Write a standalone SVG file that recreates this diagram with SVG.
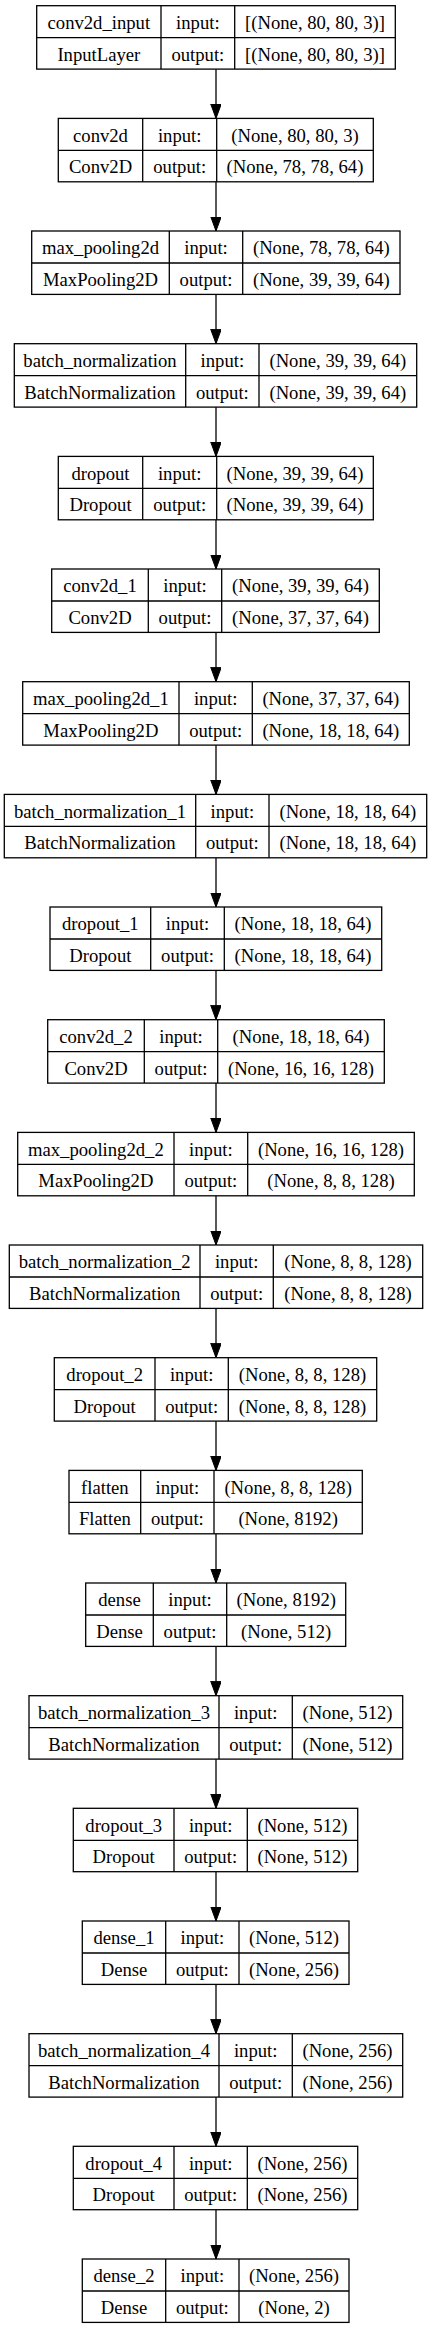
<svg xmlns="http://www.w3.org/2000/svg" width="432" height="2329" viewBox="0 0 432 2329" font-family="'Liberation Serif', 'Times New Roman', serif">
<style>
.box{fill:#fff;stroke:#000;stroke-width:1.3}
.sep{stroke:#000;stroke-width:1.3}
text{font-family:"Liberation Serif","Times New Roman",serif;font-size:18.67px;fill:#000;text-anchor:middle}
.edge{stroke:#000;stroke-width:1.3;fill:none;marker-end:url(#ah)}
</style>
<defs>
<marker id="ah" markerUnits="userSpaceOnUse" markerWidth="15" markerHeight="11" refX="14.5" refY="5.3" orient="auto">
<polygon points="0,0 14.5,5.3 0,10.6" fill="#000" stroke="#000" stroke-width="1"/>
</marker>
</defs>
<rect width="432" height="2329" fill="#fff"/>
<g id="connectors">
<path class="edge" d="M216,69.1V118.4"/>
<path class="edge" d="M216,181.8V231"/>
<path class="edge" d="M216,294.4V343.7"/>
<path class="edge" d="M216,407.1V456.4"/>
<path class="edge" d="M216,519.8V569"/>
<path class="edge" d="M216,632.4V681.7"/>
<path class="edge" d="M216,745.1V794.4"/>
<path class="edge" d="M216,857.8V907"/>
<path class="edge" d="M216,970.4V1019.7"/>
<path class="edge" d="M216,1083.1V1132.4"/>
<path class="edge" d="M216,1195.8V1245"/>
<path class="edge" d="M216,1308.4V1357.7"/>
<path class="edge" d="M216,1421.1V1470.4"/>
<path class="edge" d="M216,1533.8V1583"/>
<path class="edge" d="M216,1646.4V1695.7"/>
<path class="edge" d="M216,1759.1V1808.3"/>
<path class="edge" d="M216,1871.7V1921"/>
<path class="edge" d="M216,1984.4V2033.7"/>
<path class="edge" d="M216,2097.1V2146.3"/>
<path class="edge" d="M216,2209.7V2259"/>
</g>
<g id="conv2d_input" transform="translate(0,5.7)">
<rect class="box" x="36.7" y="0" width="358.6" height="63.4"/>
<path class="sep" d="M36.7,32H395.3M161,0V63.4M234.7,0V63.4"/>
<text x="98.85" y="23.3">conv2d_input</text><text x="197.85" y="23.3">input:</text><text x="315" y="23.3">[(None, 80, 80, 3)]</text>
<text x="98.85" y="55">InputLayer</text><text x="197.85" y="55">output:</text><text x="315" y="55">[(None, 80, 80, 3)]</text>
</g>
<g id="conv2d" transform="translate(0,118.4)">
<rect class="box" x="58.3" y="0" width="315" height="63.4"/>
<path class="sep" d="M58.3,32H373.3M142.7,0V63.4M216.7,0V63.4"/>
<text x="100.5" y="23.3">conv2d</text><text x="179.7" y="23.3">input:</text><text x="295" y="23.3">(None, 80, 80, 3)</text>
<text x="100.5" y="55">Conv2D</text><text x="179.7" y="55">output:</text><text x="295" y="55">(None, 78, 78, 64)</text>
</g>
<g id="max_pooling2d" transform="translate(0,231)">
<rect class="box" x="31.7" y="0" width="368.3" height="63.4"/>
<path class="sep" d="M31.7,32H400M169.3,0V63.4M242.7,0V63.4"/>
<text x="100.5" y="23.3">max_pooling2d</text><text x="206" y="23.3">input:</text><text x="321.35" y="23.3">(None, 78, 78, 64)</text>
<text x="100.5" y="55">MaxPooling2D</text><text x="206" y="55">output:</text><text x="321.35" y="55">(None, 39, 39, 64)</text>
</g>
<g id="batch_normalization" transform="translate(0,343.7)">
<rect class="box" x="14.3" y="0" width="402.4" height="63.4"/>
<path class="sep" d="M14.3,32H416.7M185.7,0V63.4M259,0V63.4"/>
<text x="100" y="23.3">batch_normalization</text><text x="222.35" y="23.3">input:</text><text x="337.85" y="23.3">(None, 39, 39, 64)</text>
<text x="100" y="55">BatchNormalization</text><text x="222.35" y="55">output:</text><text x="337.85" y="55">(None, 39, 39, 64)</text>
</g>
<g id="dropout" transform="translate(0,456.4)">
<rect class="box" x="58.3" y="0" width="315" height="63.4"/>
<path class="sep" d="M58.3,32H373.3M142.7,0V63.4M216.7,0V63.4"/>
<text x="100.5" y="23.3">dropout</text><text x="179.7" y="23.3">input:</text><text x="295" y="23.3">(None, 39, 39, 64)</text>
<text x="100.5" y="55">Dropout</text><text x="179.7" y="55">output:</text><text x="295" y="55">(None, 39, 39, 64)</text>
</g>
<g id="conv2d_1" transform="translate(0,569)">
<rect class="box" x="51.7" y="0" width="327.6" height="63.4"/>
<path class="sep" d="M51.7,32H379.3M148.3,0V63.4M221.7,0V63.4"/>
<text x="100" y="23.3">conv2d_1</text><text x="185" y="23.3">input:</text><text x="300.5" y="23.3">(None, 39, 39, 64)</text>
<text x="100" y="55">Conv2D</text><text x="185" y="55">output:</text><text x="300.5" y="55">(None, 37, 37, 64)</text>
</g>
<g id="max_pooling2d_1" transform="translate(0,681.7)">
<rect class="box" x="22.7" y="0" width="386.6" height="63.4"/>
<path class="sep" d="M22.7,32H409.3M179,0V63.4M252.3,0V63.4"/>
<text x="100.85" y="23.3">max_pooling2d_1</text><text x="215.65" y="23.3">input:</text><text x="330.8" y="23.3">(None, 37, 37, 64)</text>
<text x="100.85" y="55">MaxPooling2D</text><text x="215.65" y="55">output:</text><text x="330.8" y="55">(None, 18, 18, 64)</text>
</g>
<g id="batch_normalization_1" transform="translate(0,794.4)">
<rect class="box" x="4.3" y="0" width="422.4" height="63.4"/>
<path class="sep" d="M4.3,32H426.7M195.7,0V63.4M269,0V63.4"/>
<text x="100" y="23.3">batch_normalization_1</text><text x="232.35" y="23.3">input:</text><text x="347.85" y="23.3">(None, 18, 18, 64)</text>
<text x="100" y="55">BatchNormalization</text><text x="232.35" y="55">output:</text><text x="347.85" y="55">(None, 18, 18, 64)</text>
</g>
<g id="dropout_1" transform="translate(0,907)">
<rect class="box" x="50" y="0" width="331.7" height="63.4"/>
<path class="sep" d="M50,32H381.7M150.7,0V63.4M224.3,0V63.4"/>
<text x="100.35" y="23.3">dropout_1</text><text x="187.5" y="23.3">input:</text><text x="303" y="23.3">(None, 18, 18, 64)</text>
<text x="100.35" y="55">Dropout</text><text x="187.5" y="55">output:</text><text x="303" y="55">(None, 18, 18, 64)</text>
</g>
<g id="conv2d_2" transform="translate(0,1019.7)">
<rect class="box" x="47.7" y="0" width="336.6" height="63.4"/>
<path class="sep" d="M47.7,32H384.3M144.3,0V63.4M217.7,0V63.4"/>
<text x="96" y="23.3">conv2d_2</text><text x="181" y="23.3">input:</text><text x="301" y="23.3">(None, 18, 18, 64)</text>
<text x="96" y="55">Conv2D</text><text x="181" y="55">output:</text><text x="301" y="55">(None, 16, 16, 128)</text>
</g>
<g id="max_pooling2d_2" transform="translate(0,1132.4)">
<rect class="box" x="17.7" y="0" width="396.6" height="63.4"/>
<path class="sep" d="M17.7,32H414.3M174,0V63.4M247.7,0V63.4"/>
<text x="95.85" y="23.3">max_pooling2d_2</text><text x="210.85" y="23.3">input:</text><text x="331" y="23.3">(None, 16, 16, 128)</text>
<text x="95.85" y="55">MaxPooling2D</text><text x="210.85" y="55">output:</text><text x="331" y="55">(None, 8, 8, 128)</text>
</g>
<g id="batch_normalization_2" transform="translate(0,1245)">
<rect class="box" x="9.3" y="0" width="413.4" height="63.4"/>
<path class="sep" d="M9.3,32H422.7M200,0V63.4M273.3,0V63.4"/>
<text x="104.65" y="23.3">batch_normalization_2</text><text x="236.65" y="23.3">input:</text><text x="348" y="23.3">(None, 8, 8, 128)</text>
<text x="104.65" y="55">BatchNormalization</text><text x="236.65" y="55">output:</text><text x="348" y="55">(None, 8, 8, 128)</text>
</g>
<g id="dropout_2" transform="translate(0,1357.7)">
<rect class="box" x="54.3" y="0" width="322.4" height="63.4"/>
<path class="sep" d="M54.3,32H376.7M155,0V63.4M228.3,0V63.4"/>
<text x="104.65" y="23.3">dropout_2</text><text x="191.65" y="23.3">input:</text><text x="302.5" y="23.3">(None, 8, 8, 128)</text>
<text x="104.65" y="55">Dropout</text><text x="191.65" y="55">output:</text><text x="302.5" y="55">(None, 8, 8, 128)</text>
</g>
<g id="flatten" transform="translate(0,1470.4)">
<rect class="box" x="69" y="0" width="293.3" height="63.4"/>
<path class="sep" d="M69,32H362.3M140.7,0V63.4M214,0V63.4"/>
<text x="104.85" y="23.3">flatten</text><text x="177.35" y="23.3">input:</text><text x="288.15" y="23.3">(None, 8, 8, 128)</text>
<text x="104.85" y="55">Flatten</text><text x="177.35" y="55">output:</text><text x="288.15" y="55">(None, 8192)</text>
</g>
<g id="dense" transform="translate(0,1583)">
<rect class="box" x="85.7" y="0" width="260" height="63.4"/>
<path class="sep" d="M85.7,32H345.7M153.3,0V63.4M226.7,0V63.4"/>
<text x="119.5" y="23.3">dense</text><text x="190" y="23.3">input:</text><text x="286.2" y="23.3">(None, 8192)</text>
<text x="119.5" y="55">Dense</text><text x="190" y="55">output:</text><text x="286.2" y="55">(None, 512)</text>
</g>
<g id="batch_normalization_3" transform="translate(0,1695.7)">
<rect class="box" x="29" y="0" width="373.7" height="63.4"/>
<path class="sep" d="M29,32H402.7M219,0V63.4M292.3,0V63.4"/>
<text x="124" y="23.3">batch_normalization_3</text><text x="255.65" y="23.3">input:</text><text x="347.5" y="23.3">(None, 512)</text>
<text x="124" y="55">BatchNormalization</text><text x="255.65" y="55">output:</text><text x="347.5" y="55">(None, 512)</text>
</g>
<g id="dropout_3" transform="translate(0,1808.3)">
<rect class="box" x="73.3" y="0" width="284.4" height="63.4"/>
<path class="sep" d="M73.3,32H357.7M174,0V63.4M247.3,0V63.4"/>
<text x="123.65" y="23.3">dropout_3</text><text x="210.65" y="23.3">input:</text><text x="302.5" y="23.3">(None, 512)</text>
<text x="123.65" y="55">Dropout</text><text x="210.65" y="55">output:</text><text x="302.5" y="55">(None, 512)</text>
</g>
<g id="dense_1" transform="translate(0,1921)">
<rect class="box" x="82.3" y="0" width="266.7" height="63.4"/>
<path class="sep" d="M82.3,32H349M165.7,0V63.4M239,0V63.4"/>
<text x="124" y="23.3">dense_1</text><text x="202.35" y="23.3">input:</text><text x="294" y="23.3">(None, 512)</text>
<text x="124" y="55">Dense</text><text x="202.35" y="55">output:</text><text x="294" y="55">(None, 256)</text>
</g>
<g id="batch_normalization_4" transform="translate(0,2033.7)">
<rect class="box" x="29" y="0" width="373.7" height="63.4"/>
<path class="sep" d="M29,32H402.7M219,0V63.4M292.3,0V63.4"/>
<text x="124" y="23.3">batch_normalization_4</text><text x="255.65" y="23.3">input:</text><text x="347.5" y="23.3">(None, 256)</text>
<text x="124" y="55">BatchNormalization</text><text x="255.65" y="55">output:</text><text x="347.5" y="55">(None, 256)</text>
</g>
<g id="dropout_4" transform="translate(0,2146.3)">
<rect class="box" x="73.3" y="0" width="284.4" height="63.4"/>
<path class="sep" d="M73.3,32H357.7M174,0V63.4M247.3,0V63.4"/>
<text x="123.65" y="23.3">dropout_4</text><text x="210.65" y="23.3">input:</text><text x="302.5" y="23.3">(None, 256)</text>
<text x="123.65" y="55">Dropout</text><text x="210.65" y="55">output:</text><text x="302.5" y="55">(None, 256)</text>
</g>
<g id="dense_2" transform="translate(0,2259)">
<rect class="box" x="82.3" y="0" width="266.7" height="63.4"/>
<path class="sep" d="M82.3,32H349M165.7,0V63.4M239,0V63.4"/>
<text x="124" y="23.3">dense_2</text><text x="202.35" y="23.3">input:</text><text x="294" y="23.3">(None, 256)</text>
<text x="124" y="55">Dense</text><text x="202.35" y="55">output:</text><text x="294" y="55">(None, 2)</text>
</g>
</svg>
